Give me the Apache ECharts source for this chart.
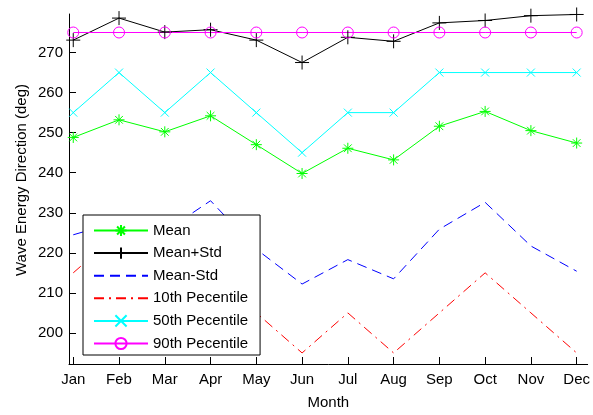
<!DOCTYPE html>
<html>
<head>
<meta charset="utf-8">
<script src="https://cdn.jsdelivr.net/npm/echarts@6/dist/echarts.min.js"></script>
<style>
  html, body { margin: 0; padding: 0; background: #fff; }
  #chart { width: 593px; height: 415px; }
</style>
</head>
<body>
<div id="chart"></div>
<script>
// Monthly wave energy direction statistics (degrees)
const months = ['Jan', 'Feb', 'Mar', 'Apr', 'May', 'Jun', 'Jul', 'Aug', 'Sep', 'Oct', 'Nov', 'Dec'];
const meanDir      = [248.8, 253.2, 250.2, 254.2, 247.0, 239.8, 246.1, 243.2, 251.6, 255.3, 250.5, 247.4];
const meanPlusStd  = [273.1, 278.6, 275.1, 275.7, 273.1, 267.5, 273.8, 272.8, 277.4, 278.0, 279.2, 279.5];
const meanMinusStd = [224.5, 227.8, 225.3, 233.0, 220.9, 212.2, 218.3, 213.5, 225.9, 232.6, 221.7, 215.4];
const pct10        = [215, 225, 215, 225, 205, 195, 205, 195, 205, 215, 205, 195];
const pct50        = [255, 265, 255, 265, 255, 245, 255, 255, 265, 265, 265, 265];
const pct90        = [275, 275, 275, 275, 275, 275, 275, 275, 275, 275, 275, 275];
const yTicks       = [200, 210, 220, 230, 240, 250, 260, 270];
const seriesNames  = ['Mean', 'Mean+Std', 'Mean-Std', '10th Pecentile', '50th Pecentile', '90th Pecentile'];

const FONT = "'Liberation Sans', Arial, Helvetica, sans-serif";
const SYM_PLUS   = 'path://M0,-1L0,1M-1,0L1,0';
const SYM_CROSS  = 'path://M-1,-1L1,1M-1,1L1,-1';
const SYM_STAR   = 'path://M0,-1L0,1M-1,0L1,0M-0.7,-0.7L0.7,0.7M-0.7,0.7L0.7,-0.7';
const SYM_CIRCLE = 'path://M1,0A1,1,0,1,1,-1,0A1,1,0,1,1,1,0Z';

// month index (1..12) paired with each value
const toPoints = arr => arr.map((v, i) => [i + 1, v]);

function lineSeries(name, values, color, symbol, size, lineType, fill) {
  return {
    name: name,
    type: 'line',
    data: toPoints(values),
    symbol: symbol,
    symbolSize: size,
    showSymbol: symbol !== 'none',
    animation: false,
    lineStyle: { color: color, width: 1, type: lineType || 'solid' },
    itemStyle: { color: fill || color, borderColor: color, borderWidth: 1 },
    emphasis: { disabled: true }
  };
}

// legend entries: plain line samples for the series drawn without markers
const legendData = seriesNames.map((n, i) =>
  (i === 2 || i === 3) ? { name: n, itemStyle: { opacity: 0 } } : { name: n });

const chart = echarts.init(document.getElementById('chart'), null, { renderer: 'canvas' });
chart.setOption({
  backgroundColor: '#fff',
  textStyle: { fontFamily: FONT },
  grid: { left: 69, top: 14, width: 523, height: 357, containLabel: false },
  xAxis: {
    type: 'value',
    min: 0.907,
    max: 12.24,
    name: 'Month',
    nameLocation: 'middle',
    nameGap: 31,
    nameTextStyle: { fontFamily: FONT, fontSize: 15, color: '#000' },
    splitLine: { show: false },
    axisLine: { lineStyle: { color: '#000', width: 1 } },
    axisTick: { inside: true, length: 7, lineStyle: { color: '#000' }, customValues: months.map((m, i) => i + 1) },
    axisLabel: {
      customValues: months.map((m, i) => i + 1),
      formatter: v => months[Math.round(v) - 1] || '',
      fontFamily: FONT, fontSize: 15, color: '#000', margin: 8
    }
  },
  yAxis: {
    type: 'value',
    min: 192.24,
    max: 279.62,
    splitLine: { show: false },
    axisLine: { show: true, lineStyle: { color: '#000', width: 1 } },
    axisTick: { show: true, inside: true, length: 7, lineStyle: { color: '#000' }, customValues: yTicks },
    axisLabel: { customValues: yTicks, fontFamily: FONT, fontSize: 15, color: '#000', margin: 6 }
  },
  graphic: [{
    type: 'text',
    x: 22,
    y: 180,
    rotation: Math.PI / 2,
    style: {
      text: 'Wave Energy Direction (deg)',
      font: '15px ' + FONT,
      fill: '#000',
      align: 'center',
      verticalAlign: 'middle'
    }
  }],
  legend: {
    orient: 'vertical',
    left: 83,
    top: 215,
    padding: [8, 12, 4, 10],
    itemWidth: 54,
    itemHeight: 14,
    itemGap: 7.6,
    backgroundColor: '#fff',
    borderColor: '#000',
    borderWidth: 1,
    textStyle: { fontFamily: FONT, fontSize: 15, color: '#000' },
    data: legendData
  },
  series: [
    lineSeries(seriesNames[0], meanDir, '#00ff00', SYM_STAR, 11),
    lineSeries(seriesNames[1], meanPlusStd, '#000000', SYM_PLUS, 14),
    lineSeries(seriesNames[2], meanMinusStd, '#0000ff', 'none', 0, [10, 6]),
    lineSeries(seriesNames[3], pct10, '#ff0000', 'none', 0, [10, 5, 2, 5]),
    lineSeries(seriesNames[4], pct50, '#00ffff', SYM_CROSS, 8),
    lineSeries(seriesNames[5], pct90, '#ff00ff', SYM_CIRCLE, 11, null, 'rgba(255,255,255,0)')
  ]
});
</script>
</body>
</html>
